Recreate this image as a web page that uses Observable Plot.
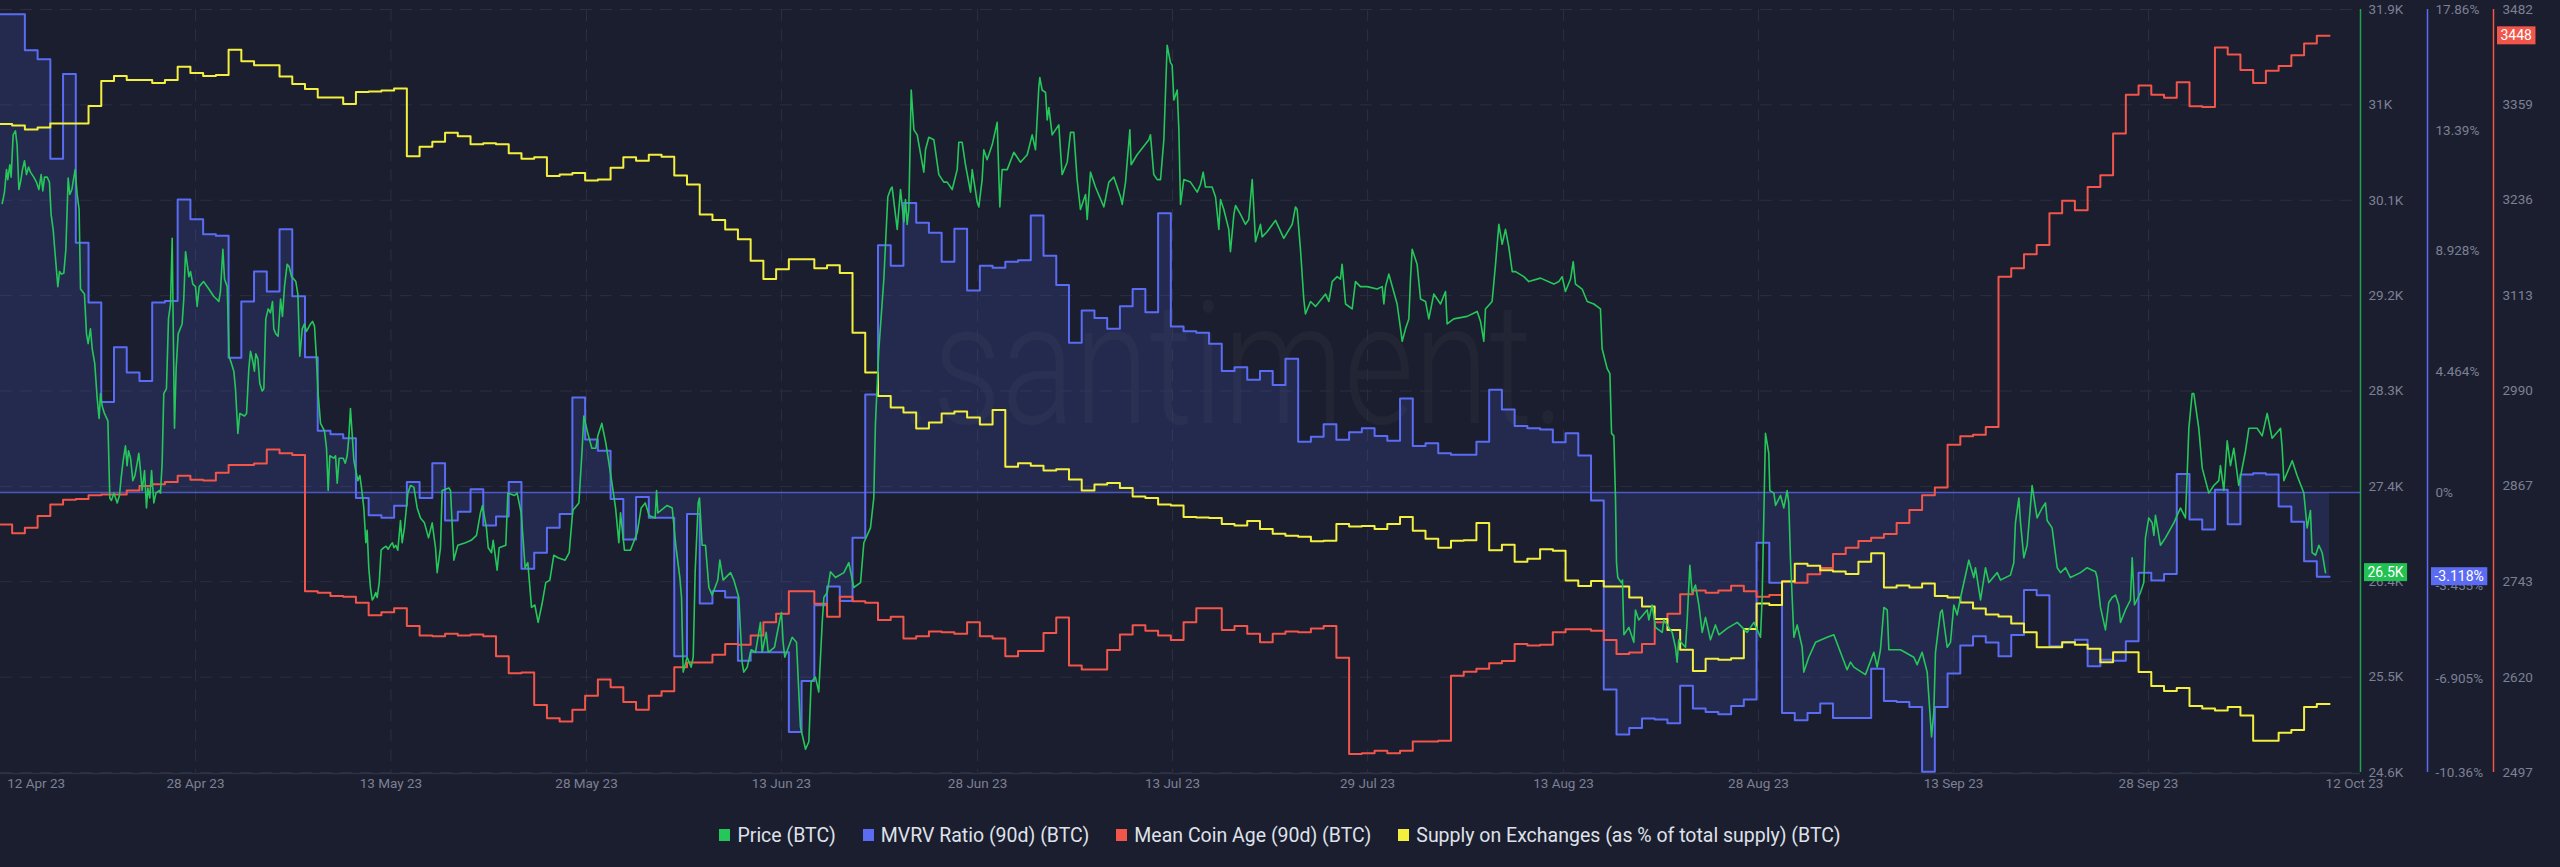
<!DOCTYPE html>
<html><head><meta charset="utf-8">
<script src="https://cdn.jsdelivr.net/npm/d3@7"></script>
<script src="https://cdn.jsdelivr.net/npm/@observablehq/plot@0.6"></script>
<style>
html,body{margin:0;padding:0;background:#1b1e2e;}
#chart{position:relative;width:2560px;height:810px;}
#chart svg{position:absolute;left:0;top:0;}
#legend{display:flex;justify-content:center;align-items:center;height:50px;font-family:Roboto,sans-serif;font-size:19.5px;color:#dfe1ea;}
.item{display:flex;align-items:center;margin:0 13.5px;}
.sw{width:11px;height:12px;margin-right:7px;}
</style></head><body>
<div id="chart"></div>
<div id="legend"></div>
<script>
// ---------- categories / ticks ----------
const seriesNames = ["Price (BTC)", "MVRV Ratio (90d) (BTC)", "Mean Coin Age (90d) (BTC)", "Supply on Exchanges (as % of total supply) (BTC)"];
const seriesColors = ["#26c75a", "#5a6cf3", "#f2554a", "#f3ef3e"];
// x ticks: days since 12 Apr 2023
const xTickDays = [0.06, 15.40, 30.75, 46.11, 61.42, 76.82, 92.13, 107.45, 122.84, 138.15, 153.47, 168.78, 184.96];
const xTickLabels = ["12 Apr 23", "28 Apr 23", "13 May 23", "28 May 23", "13 Jun 23", "28 Jun 23", "13 Jul 23", "29 Jul 23", "13 Aug 23", "28 Aug 23", "13 Sep 23", "28 Sep 23", "12 Oct 23"];
const priceTicks = [24620, 25530, 26440, 27350, 28260, 29170, 30080, 30990, 31900];
const priceTickLabels = ["24.6K", "25.5K", "26.4K", "27.4K", "28.3K", "29.2K", "30.1K", "31K", "31.9K"];
const mvrvTicks = [17.86, 13.39, 8.928, 4.464, 0, -3.455, -6.905, -10.36];
const mvrvTickLabels = ["17.86%", "13.39%", "8.928%", "4.464%", "0%", "-3.455%", "-6.905%", "-10.36%"];
const ageTicks = [3482, 3359, 3236, 3113, 2990, 2867, 2743, 2620, 2497];
const ageTickLabels = ["3482", "3359", "3236", "3113", "2990", "2867", "2743", "2620", "2497"];

// ---------- daily series (day 1 = 12 Apr 2023) ----------
const mvrvDaily = [
 17.68,17.68,16.35,16.02,12.34,15.47,9.23,7.02,3.34,5.37,
 4.43,4.12,7.02,7.08,10.83,10.10,9.55,9.49,4.98,7.06,
 8.17,7.43,9.73,7.25,5.00,2.28,2.15,2.00,-0.21,-0.85,
 -0.94,-0.49,0.38,-0.21,1.08,-1.04,-0.72,0.12,-1.22,-0.89,
 0.38,-2.82,-2.23,-1.31,-0.80,3.51,1.96,1.54,-0.24,-1.74,
 -0.17,-0.94,-0.94,-6.06,-0.80,-4.11,-3.65,-3.89,-6.23,-5.91,
 -5.91,-5.91,-8.86,-6.98,-4.17,-3.48,-4.02,-1.68,3.62,9.14,
 8.38,10.70,9.97,9.60,8.53,9.75,7.47,8.38,8.31,8.53,
 8.59,10.24,8.75,7.67,5.53,6.73,6.45,6.05,6.88,7.52,
 6.66,10.32,6.14,5.96,5.90,5.50,4.49,4.63,4.17,4.49,
 3.97,4.94,1.87,2.06,2.52,1.95,2.22,2.37,2.09,1.91,
 3.47,1.72,1.82,1.45,1.39,1.39,1.87,3.80,3.07,2.46,
 2.37,2.33,1.85,2.19,1.36,-0.30,-7.29,-8.95,-8.71,-8.36,
 -8.40,-8.54,-7.15,-7.99,-8.12,-8.21,-7.90,-7.66,-1.86,-3.34,
 -8.16,-8.43,-8.16,-7.81,-8.34,-8.34,-8.34,-6.52,-7.72,-7.75,
 -7.94,-10.33,-7.94,-6.70,-5.66,-5.32,-5.55,-6.06,-5.27,-3.61,
 -3.80,-5.69,-5.55,-5.45,-6.43,-6.19,-6.23,-5.51,-2.97,-3.26,
 -3.02,0.68,-1.00,-1.37,0.10,-1.18,0.66,0.71,0.66,-0.52,
 -1.09,-2.55,-3.118];
const ageDaily = [
 2817,2806,2813,2828,2843,2849,2850,2855,2856,2856,
 2861,2867,2869,2872,2880,2875,2874,2884,2894,2894,
 2896,2914,2909,2907,2731,2729,2725,2724,2716,2700,
 2704,2709,2686,2674,2673,2676,2674,2675,2673,2647,
 2625,2626,2584,2567,2563,2578,2596,2617,2607,2588,
 2578,2596,2602,2633,2639,2639,2649,2663,2662,2674,
 2691,2702,2731,2731,2715,2698,2724,2718,2716,2694,
 2698,2670,2673,2679,2678,2676,2691,2673,2670,2647,
 2654,2654,2677,2697,2635,2630,2630,2655,2675,2687,
 2680,2674,2668,2691,2709,2709,2681,2686,2676,2665,
 2676,2679,2678,2683,2686,2645,2521,2522,2525,2522,
 2525,2537,2537,2538,2622,2627,2631,2638,2641,2663,
 2661,2662,2678,2682,2682,2680,2668,2650,2652,2663,
 2691,2702,2727,2732,2729,2732,2738,2731,2724,2726,
 2744,2742,2753,2761,2779,2787,2796,2800,2805,2819,
 2836,2855,2865,2920,2931,2933,2943,3137,3148,3166,
 3178,3219,3235,3223,3253,3268,3322,3372,3384,3372,
 3368,3388,3357,3356,3433,3424,3404,3387,3403,3409,
 3423,3438,3448];
const supplyDaily = [
 6.1856,6.184,6.180,6.182,6.186,6.186,6.186,6.2035,6.2284,6.2334,
 6.2294,6.2294,6.2264,6.2294,6.2428,6.2364,6.2334,6.2344,6.2597,6.2483,
 6.2443,6.2443,6.233,6.2254,6.2204,6.212,6.212,6.2055,6.2175,6.218,
 6.219,6.221,6.1533,6.1627,6.1677,6.1767,6.1732,6.1652,6.1662,6.1652,
 6.1563,6.1508,6.1523,6.1334,6.1349,6.1364,6.1289,6.1299,6.1418,6.1523,
 6.1488,6.1548,6.1528,6.1339,6.125,6.095,6.0896,6.0801,6.0702,6.0488,
 6.0304,6.0403,6.0503,6.0503,6.0413,6.0443,6.0364,5.9767,5.9369,5.9135,
 5.902,5.897,5.8811,5.8871,5.896,5.898,5.892,5.8851,5.8995,5.8428,
 5.8463,5.8438,5.8389,5.8403,5.8299,5.819,5.8249,5.8264,5.8214,5.813,
 5.8115,5.805,5.804,5.7926,5.792,5.7916,5.7856,5.7841,5.7886,5.7806,
 5.7757,5.7737,5.7727,5.7682,5.7687,5.7856,5.7831,5.7836,5.7806,5.7856,
 5.7926,5.7787,5.7707,5.7617,5.7687,5.7692,5.7866,5.7592,5.7647,5.7478,
 5.7508,5.7602,5.7588,5.7289,5.7234,5.7284,5.723,5.723,5.712,5.703,
 5.6906,5.6796,5.6597,5.6384,5.6508,5.6498,5.6513,5.6806,5.706,5.7045,
 5.7279,5.7458,5.7438,5.7393,5.7379,5.7354,5.7478,5.7563,5.7219,5.7239,
 5.7219,5.7259,5.7135,5.712,5.707,5.701,5.6951,5.693,5.6861,5.6772,
 5.6622,5.6622,5.6672,5.6647,5.6607,5.6473,5.6573,5.6573,5.6374,5.6234,
 5.6185,5.6214,5.6035,5.601,5.599,5.6025,5.5941,5.5687,5.5687,5.5767,
 5.5796,5.6025,5.6055];

// ---------- price series: [days since 12 Apr 2023, USD] ----------
const priceSeries = [
[0.22,30049],[0.40,30158],[0.56,30372],[0.66,30277],[0.82,30419],[0.92,30301],[1.08,30704],[1.26,30742],[1.39,30609],[1.53,30182],
[1.66,30253],[1.81,30372],[1.97,30457],[2.13,30325],[2.29,30396],[2.44,30348],[2.70,30301],[2.91,30253],[3.10,30182],[3.28,30325],
[3.41,30168],[3.54,30301],[3.75,30301],[3.93,30253],[4.06,29945],[4.22,29802],[4.41,29518],[4.59,29256],[4.72,29399],[4.88,29375],
[5.06,29385],[5.22,29612],[5.40,30291],[5.53,30135],[5.69,30182],[5.85,30301],[5.95,30372],[6.11,30135],[6.26,29992],[6.37,29233],
[6.68,29185],[6.84,28805],[6.97,28711],[7.15,28853],[7.29,28663],[7.49,28521],[7.68,28188],[7.83,27998],[7.94,28236],[8.07,28117],
[8.25,28046],[8.52,27975],[8.67,27239],[8.80,27215],[8.99,27286],[9.12,27239],[9.25,27192],[9.43,27263],[9.56,27429],[9.72,27595],
[9.90,27737],[10.03,27548],[10.14,27690],[10.30,27619],[10.48,27405],[10.64,27453],[10.82,27571],[10.95,27666],[11.08,27500],[11.21,27310],
[11.40,27500],[11.55,27144],[11.66,27334],[11.81,27239],[11.95,27500],[12.13,27192],[12.29,27286],[12.55,27310],[12.65,27286],[12.78,27571],
[12.91,28236],[13.12,28283],[13.28,28948],[13.44,29090],[13.57,29717],[13.65,28900],[13.75,27904],[13.88,28473],[14.04,28805],[14.35,28900],
[14.48,29138],[14.62,29589],[14.75,29470],[14.88,29351],[15.01,29399],[15.19,29280],[15.40,29256],[15.53,29067],[15.69,29256],[16.03,29304],
[16.45,29233],[16.84,29162],[17.05,29138],[17.23,29114],[17.36,29209],[17.55,29612],[17.68,29328],[17.89,29256],[18.04,28592],[18.23,28521],
[18.41,28449],[18.54,28283],[18.73,27856],[18.88,28046],[19.25,28022],[19.41,28046],[19.59,28473],[19.72,28639],[19.90,28544],[20.03,28449],
[20.14,28616],[20.30,28568],[20.45,28331],[20.64,28260],[20.77,28283],[20.92,28948],[21.11,29043],[21.29,29005],[21.45,29114],[21.55,28853],
[21.71,28805],[21.89,28782],[22.08,29138],[22.23,28972],[22.39,29256],[22.60,29470],[22.76,29446],[22.94,29351],[23.12,29328],[23.28,29304],
[23.44,29185],[23.59,28592],[23.78,28853],[23.96,28900],[24.12,28829],[24.43,28900],[24.59,28924],[24.75,28877],[24.90,28568],[25.03,28236],
[25.22,27951],[25.53,27880],[25.69,27714],[25.82,27310],[25.95,27642],[26.26,27619],[26.40,27642],[26.53,27381],[26.68,27619],[27.00,27619],
[27.16,27571],[27.31,27642],[27.44,27809],[27.57,28093],[27.70,27856],[27.84,27595],[27.99,27500],[28.15,27405],[28.31,27453],[28.44,27334],
[28.62,27144],[28.78,26812],[28.88,26930],[29.01,26574],[29.14,26385],[29.28,26266],[29.41,26290],[29.56,26337],[29.67,26290],[29.83,26432],
[29.98,26741],[30.19,26765],[30.37,26779],[30.53,26750],[30.71,26788],[30.87,26812],[30.98,26765],[31.13,26788],[31.29,26741],[31.45,26954],
[31.50,27025],[31.63,26812],[31.81,26954],[32.08,27286],[32.29,27358],[32.55,27343],[32.81,27144],[33.07,27049],[33.38,27002],[33.70,26859],
[33.99,27002],[34.25,26764],[34.38,26527],[34.64,26764],[34.77,27310],[35.30,27334],[35.43,27310],[35.69,26646],[36.00,26788],[36.60,26812],
[37.05,26835],[37.47,26883],[37.78,27097],[37.94,27168],[38.25,26954],[38.39,26764],[38.65,26717],[38.78,26835],[39.09,26551],[39.25,26764],
[39.77,26788],[39.93,27286],[40.45,27263],[40.66,27286],[40.98,27097],[41.29,26574],[41.50,26622],[41.79,26195],[42.05,26218],[42.31,26052],
[42.60,26218],[42.91,26432],[43.23,26456],[43.54,26693],[43.88,26669],[44.43,26646],[44.75,26717],[45.03,27120],[45.51,27192],[45.77,27714],
[45.90,28022],[46.21,27856],[46.53,27714],[46.84,27714],[47.00,27832],[47.31,27951],[47.63,27761],[48.05,27429],[48.39,27144],[48.65,26812],
[48.78,27097],[49.09,26741],[49.56,26741],[50.09,26907],[50.40,27144],[50.72,27192],[51.03,27073],[51.50,27049],[51.61,27310],[51.71,27097],
[52.44,27168],[52.84,27144],[53.12,26788],[53.44,26480],[53.57,26290],[53.70,25578],[54.01,25720],[54.33,25625],[54.49,25720],[54.64,26527],
[54.88,27192],[54.98,27239],[55.19,26788],[55.45,26788],[55.72,26385],[55.98,26313],[56.42,26456],[56.58,26646],[56.84,26456],[57.42,26527],
[57.68,26456],[58.07,26290],[58.33,25673],[58.46,25578],[58.73,25625],[59.04,25791],[59.38,25767],[59.64,25957],[59.77,26052],[59.90,25767],
[60.22,25957],[60.38,25767],[60.87,25815],[61.29,26076],[61.42,26147],[61.55,25862],[61.68,25720],[62.26,25910],[62.60,25862],
[62.91,25055],[63.31,24842],[63.57,24913],[63.75,25483],[64.09,25530],[64.35,25388],[64.62,26052],[64.75,26290],[65.01,26337],[65.27,26536],
[65.66,26480],[66.32,26527],[66.71,26622],[67.10,26385],[67.63,26432],[67.89,26812],[68.41,26954],[68.67,27239],[68.80,27951],[69.07,28663],
[69.46,29328],[69.77,30111],[69.98,30182],[70.11,30206],[70.51,29802],[70.77,30182],[71.03,29874],[71.16,30087],[71.29,29850],[71.42,29992],
[71.61,31132],[71.82,30752],[72.08,30704],[72.60,30348],[72.73,30562],[72.99,30681],[73.39,30657],[73.78,30325],[74.17,30253],[74.43,30253],
[74.83,30182],[75.22,30372],[75.35,30633],[75.61,30633],[75.87,30419],[76.27,30158],[76.40,30372],[76.79,30063],[76.92,30016],[77.18,30277],
[77.31,30562],[77.57,30467],[77.97,30609],[78.36,30823],[78.57,30016],[78.75,30372],[79.15,30372],[79.67,30538],[80.19,30443],[80.72,30514],
[81.11,30704],[81.37,30562],[81.63,31155],[81.71,31250],[81.89,31132],[82.16,31108],[82.29,30847],[82.42,30965],[82.68,30704],[83.20,30799],
[83.46,30325],[83.86,30443],[84.12,30728],[84.38,30728],[84.64,30277],[84.90,29992],[85.30,30135],[85.43,29897],[85.69,30348],[86.08,30206],
[86.74,30016],[87.13,30253],[87.52,30301],[88.05,30111],[88.18,30040],[88.44,30253],[88.78,30752],[88.88,30419],[89.35,30514],[90.27,30657],
[90.40,30704],[90.66,30325],[90.93,30277],[91.19,30277],[91.45,30657],[91.71,31559],[91.97,31393],[92.10,31369],[92.24,31037],[92.50,31132],
[92.63,30752],[92.76,30040],[93.02,30277],[93.54,30253],[94.07,30158],[94.33,30230],
[94.54,30348],[94.72,30206],[95.24,30206],[95.51,30111],[95.77,29802],[95.90,30087],[96.16,29992],[96.55,29802],[96.68,29589],[96.95,29945],
[97.08,30030],[97.47,29945],[97.86,29850],[98.12,29897],[98.39,30277],[98.52,29992],[98.65,29684],[99.04,29850],[99.17,29731],[99.56,29779],
[100.22,29888],[100.87,29717],[101.53,29850],[101.79,30016],[101.92,29992],[102.18,29612],[102.44,29138],[102.57,28995],[102.97,29114],[103.36,29067],
[104.15,29185],[104.41,29114],[104.67,29304],[105.06,29351],[105.32,29328],[105.45,29470],[105.72,29090],[106.24,29043],[106.50,29304],[106.89,29256],
[107.42,29256],[108.20,29233],[108.60,29256],[108.73,29090],[108.86,29256],[109.12,29375],[109.77,29090],[110.04,28853],[110.17,28734],[110.43,28853],
[110.69,28948],[110.82,29328],[110.95,29612],[111.34,29470],[111.61,29138],[112.00,29114],[112.26,28948],[112.65,29185],[113.18,29090],[113.57,29209],
[113.70,28900],[114.22,28948],[115.27,28972],[116.06,29019],[116.32,28924],[116.58,28734],[116.71,29043],[117.23,29114],[117.50,29470],[117.76,29850],
[118.02,29660],[118.28,29802],[118.54,29636],[118.81,29399],[119.07,29399],[119.72,29351],[120.11,29304],[121.03,29337],[122.08,29280],[122.47,29304],
[122.73,29351],[122.99,29209],[123.39,29328],[123.60,29494],[123.78,29280],[124.30,29233],[124.70,29114],[125.22,29090],[125.74,29043],
[125.87,28663],[126.27,28473],[126.48,28426],[126.61,27856],[126.79,27832],[126.92,27239],[127.00,26622],[127.10,26480],[127.37,26432],[127.47,26456],
[127.58,25934],[127.97,26005],[128.36,25862],[128.49,26171],[128.75,26076],[129.41,26171],[129.54,26076],[129.80,26218],[130.06,26005],[130.59,25957],
[130.72,26076],[131.37,25957],[131.63,25815],[131.76,25673],[131.89,25886],[132.42,25815],[132.55,26076],[132.76,26598],[132.94,26337],[133.20,26408],
[133.47,26218],[133.73,25957],[133.99,26100],[134.38,25886],[134.77,26028],[135.04,25934],[135.69,25995],[136.48,26052],[137.26,25957],[137.79,26052],
[138.31,25910],[138.44,26290],[138.70,27856],[138.96,27666],[139.04,27310],[139.36,27286],[139.49,27168],[139.88,27263],[140.14,27144],[140.40,27310],
[140.53,27192],[140.66,26669],[140.93,25910],[141.19,26028],[141.58,25815],[141.71,25578],[142.10,25720],[142.63,25862],[143.54,25910],[144.07,25934],
[144.59,25767],[145.11,25601],[145.38,25673],[145.64,25625],[146.55,25554],[147.21,25767],[147.47,25625],[147.73,25791],[148.00,26195],[148.26,26171],
[148.39,25791],[149.30,25791],[150.35,25720],[150.61,25649],[151.00,25767],[151.40,25578],[151.74,24960],[151.92,25198],[152.05,25767],[152.44,26147],
[152.58,26171],[152.97,25815],[153.23,25862],[153.49,26218],[153.75,26124],[154.02,26290],[154.54,26574],[154.67,26646],[155.06,26480],[155.19,26574],
[155.59,26266],[155.98,26574],[156.24,26432],[156.90,26527],[157.16,26456],
[157.94,26503],[158.20,26622],[158.33,27002],[158.60,27239],[158.73,27002],[158.99,26669],[159.25,26788],[159.64,27358],[160.03,27049],[160.43,27144],
[160.69,27192],[160.82,27025],[161.21,26954],[161.61,26574],[161.87,26527],[162.26,26574],[162.65,26480],[163.44,26527],[163.96,26574],[164.62,26536],
[164.75,26480],[165.01,26195],[165.40,25981],[165.66,26242],[165.92,26290],[166.19,26313],[166.45,26218],[166.58,26052],[166.97,26171],[167.36,26266],
[167.50,26669],[167.68,26218],[168.15,26337],[168.41,26432],[168.54,26859],[168.80,27049],[169.07,27002],[169.20,26883],[169.33,27073],[169.72,26788],
[170.11,26859],[170.77,27002],[171.29,27144],[171.68,27049],[171.82,27476],[171.95,27904],[172.21,28236],[172.34,28236],[172.73,27904],[173.00,27524],
[173.52,27286],[173.91,27358],[174.30,27405],[174.43,27548],[174.70,27310],[174.96,27785],[175.22,27548],[175.48,27714],[175.87,27358],[176.40,27690],
[176.66,27904],[177.31,27904],[177.71,27832],[178.10,28046],[178.49,27809],[179.15,27904],[179.28,27714],[179.41,27405],[180.07,27595],[180.45,27453],
[180.98,27286],[181.24,26954],[181.50,27120],[181.63,26717],[181.90,26693],[182.16,26788],[182.42,26717],[182.68,26527]
];

// ---------- layout ----------
const W = 2560, H = 810;
const xDomain = [0.0864, 185.43];
const gridColor = "#2b2f41", labelColor = "#7b8095";
const font = "Roboto, 'Noto Sans', sans-serif";
const chart = document.getElementById("chart");

function daily(arr) {
  const d = arr.map((v, i) => ({t: i, v}));
  d.push({t: arr.length, v: arr[arr.length - 1]});
  return d;
}
function layer(yDomain, marks) {
  const p = Plot.plot({
    width: W, height: H, marginTop: 9, marginRight: 200, marginBottom: 38, marginLeft: 0,
    x: {domain: xDomain, axis: null, label: null},
    y: {domain: yDomain, axis: null, label: null},
    style: {background: "transparent", overflow: "visible", fontFamily: font, fontSize: "13.5px", color: labelColor},
    marks
  });
  chart.appendChild(p);
  return p;
}
function badge(p, value, label, axisX, color) {
  const y = p.scale("y").apply(value);
  const g = d3.select(p).append("g");
  const r = g.append("rect");
  const t = g.append("text").attr("x", axisX + 4 + 3.5).attr("y", y).attr("dy", "0.36em")
    .attr("text-anchor", "start")
    .attr("fill", "#ffffff").attr("font-size", 14).attr("font-family", font).text(label);
  const w = t.node().getComputedTextLength();
  r.attr("x", axisX + 4).attr("y", y - 9).attr("width", w + 7).attr("height", 18).attr("fill", color);
}
const mapOf = (ticks, labels) => new Map(ticks.map((d, i) => [d, labels[i]]));
const priceLab = mapOf(priceTicks, priceTickLabels);
const mvrvLab = mapOf(mvrvTicks, mvrvTickLabels);
const ageLab = mapOf(ageTicks, ageTickLabels);
const xTicks = xTickDays.map((t, i) => ({t, label: xTickLabels[i]}));
const priceDomain = [priceTicks[0], priceTicks[priceTicks.length - 1]];
const axisOpts = {anchor: "right", tickSize: 0, tickPadding: 8, fill: labelColor, label: null};

// base layer: grid, x labels, price axis
const base = layer(priceDomain, [
  Plot.ruleY(priceTicks, {stroke: gridColor, strokeWidth: 1, strokeDasharray: "12,8"}),
  Plot.ruleX(xTicks.slice(1, 12), {x: "t", stroke: gridColor, strokeWidth: 1, strokeDasharray: "12,8"}),
  Plot.ruleY([priceDomain[0]], {stroke: "#2d3144", strokeWidth: 1.5, dy: 1}),
  Plot.text(xTicks.slice(0, 1), {x: "t", text: "label", frameAnchor: "bottom", dy: 15, dx: 7, textAnchor: "start", fill: labelColor, fontSize: 13.5}),
  Plot.text(xTicks.slice(1), {x: "t", text: "label", frameAnchor: "bottom", dy: 15, fill: labelColor, fontSize: 13.5}),
  Plot.axisY({...axisOpts, ticks: priceTicks, tickFormat: d => priceLab.get(d)}),
  Plot.ruleX([xDomain[1]], {stroke: "#21a34c", strokeWidth: 1.5})
]);
d3.select(base).insert("text", ":first-child")
  .attr("x", 900).attr("y", 423).attr("text-anchor", "start")
  .attr("textLength", 665).attr("lengthAdjust", "spacingAndGlyphs")
  .attr("font-family", font).attr("font-weight", 300).attr("font-size", 170)
  .attr("fill", "#ffffff").attr("fill-opacity", 0.032).text(".santiment.");

// MVRV layer
const mvrvData = daily(mvrvDaily);
const mvrv = layer([mvrvTicks[mvrvTicks.length - 1], mvrvTicks[0]], [
  Plot.areaY(mvrvData, {x: "t", y1: 0, y2: "v", curve: "step-after", fill: seriesColors[1], fillOpacity: 0.16}),
  Plot.ruleY([0], {stroke: seriesColors[1], strokeOpacity: 0.75, strokeWidth: 1.5}),
  Plot.line(mvrvData, {x: "t", y: "v", curve: "step-after", stroke: seriesColors[1], strokeWidth: 2}),
  Plot.axisY({...axisOpts, ticks: mvrvTicks, tickFormat: d => mvrvLab.get(d), dx: 67}),
  Plot.ruleX([xDomain[1]], {stroke: seriesColors[1], strokeWidth: 1.5, dx: 67})
]);

// Mean coin age layer
const ageData = daily(ageDaily);
const age = layer([ageTicks[ageTicks.length - 1], ageTicks[0]], [
  Plot.line(ageData, {x: "t", y: "v", curve: "step-after", stroke: seriesColors[2], strokeWidth: 2}),
  Plot.axisY({...axisOpts, ticks: ageTicks, tickFormat: d => ageLab.get(d), dx: 134}),
  Plot.ruleX([xDomain[1]], {stroke: seriesColors[2], strokeWidth: 1.5, dx: 133})
]);

// Supply on exchanges layer (no axis shown)
const supplyData = daily(supplyDaily);
layer([5.537, 6.300], [
  Plot.line(supplyData, {x: "t", y: "v", curve: "step-after", stroke: seriesColors[3], strokeWidth: 2})
]);

// Price layer on top
const priceData = priceSeries.map(([t, v]) => ({t, v}));
const price = layer(priceDomain, [
  Plot.line(priceData, {x: "t", y: "v", stroke: seriesColors[0], strokeWidth: 1.6})
]);

// last-value badges
const lastPrice = priceSeries[priceSeries.length - 1][1];
badge(price, lastPrice, (lastPrice / 1000).toFixed(1) + "K", 2360, "#22c252");
const lastMvrv = mvrvDaily[mvrvDaily.length - 1];
badge(mvrv, lastMvrv, lastMvrv.toFixed(3) + "%", 2427, "#5b6cf3");
const lastAge = ageDaily[ageDaily.length - 1];
badge(age, lastAge, String(lastAge), 2493, "#f2554a");

// legend
const legend = d3.select("#legend");
seriesNames.forEach((n, i) => {
  const it = legend.append("div").attr("class", "item");
  it.append("div").attr("class", "sw").style("background", seriesColors[i]);
  it.append("span").text(n);
});
</script></body></html>
